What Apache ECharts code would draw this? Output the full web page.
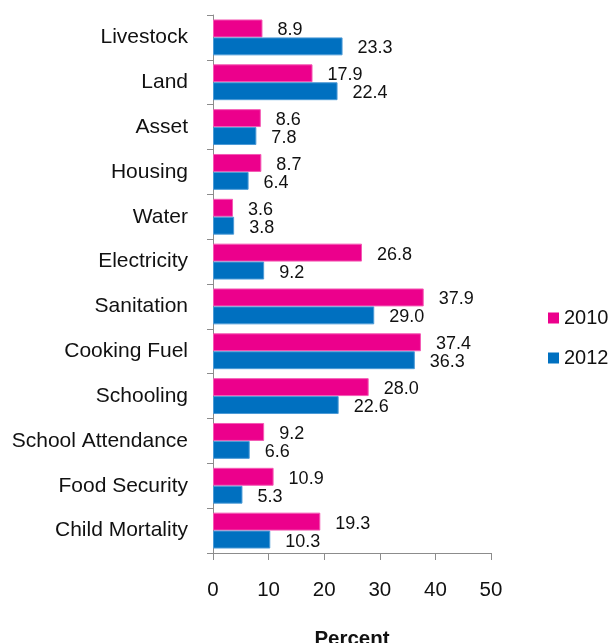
<!DOCTYPE html>
<html>
<head>
<meta charset="utf-8">
<script src="https://cdn.jsdelivr.net/npm/echarts@6/dist/echarts.min.js"></script>
<style>
  html, body { margin: 0; padding: 0; background: #fff; }
  #chart { width: 608px; height: 643px; }
</style>
</head>
<body>
<div id="chart"></div>
<script>
// Deprivation indicators, share of population (percent)
const categories = [
  'Livestock', 'Land', 'Asset', 'Housing', 'Water', 'Electricity',
  'Sanitation', 'Cooking Fuel', 'Schooling', 'School Attendance',
  'Food Security', 'Child Mortality'
];
const values2010 = [8.9, 17.9, 8.6, 8.7, 3.6, 26.8, 37.9, 37.4, 28.0, 9.2, 10.9, 19.3];
const values2012 = [23.3, 22.4, 7.8, 6.4, 3.8, 9.2, 29.0, 36.3, 22.6, 6.6, 5.3, 10.3];
const xTicks = [0, 10, 20, 30, 40, 50];

const FONT = '"Liberation Sans", Arial, sans-serif';

const chart = echarts.init(document.getElementById('chart'), null, { renderer: 'canvas' });

const labelStyle = {
  show: true,
  position: 'right',
  distance: 15,
  offset: [0, 2],
  fontFamily: FONT,
  fontSize: 18,
  color: '#111',
  formatter: p => p.value.toFixed(1)
};

chart.setOption({
  animation: false,
  backgroundColor: '#fff',
  textStyle: { fontFamily: FONT },
  grid: { left: 213, right: 117, top: 15, bottom: 90, containLabel: false, outerBoundsMode: 'none' },
  legend: {
    orient: 'vertical',
    left: 543,
    top: 303,
    itemWidth: 11,
    itemHeight: 11,
    itemGap: 20,
    icon: 'rect',
    itemStyle: { borderWidth: 0 },
    textStyle: { fontFamily: FONT, fontSize: 20, color: '#111' },
    data: ['2010', '2012']
  },
  xAxis: {
    type: 'value',
    min: xTicks[0],
    max: xTicks[xTicks.length - 1],
    interval: 10,
    name: 'Percent',
    nameLocation: 'middle',
    nameGap: 76,
    nameTextStyle: { fontFamily: FONT, fontSize: 20.5, fontWeight: 'bold', color: '#111' },
    axisLine: { show: true, lineStyle: { color: '#8c8c8c', width: 1 } },
    axisTick: { show: true, length: 7, lineStyle: { color: '#8c8c8c' } },
    axisLabel: { margin: 27, fontFamily: FONT, fontSize: 20.5, color: '#111' },
    splitLine: { show: false }
  },
  yAxis: {
    type: 'category',
    inverse: true,
    data: categories,
    axisLine: { show: true, lineStyle: { color: '#8c8c8c', width: 1 } },
    axisTick: { show: true, length: 6, lineStyle: { color: '#8c8c8c' } },
    axisLabel: { margin: 25, fontFamily: FONT, fontSize: 21, color: '#111' }
  },
  series: [
    {
      name: '2010',
      type: 'bar',
      data: values2010,
      barGap: '0%',
      barCategoryGap: '20%',
      itemStyle: { color: '#EC008C', borderColor: '#F45AB4', borderWidth: 1 },
      label: labelStyle
    },
    {
      name: '2012',
      type: 'bar',
      data: values2012,
      barGap: '0%',
      barCategoryGap: '20%',
      itemStyle: { color: '#0070C0', borderColor: '#4C9AD6', borderWidth: 1 },
      label: labelStyle
    }
  ]
});
</script>
</body>
</html>
